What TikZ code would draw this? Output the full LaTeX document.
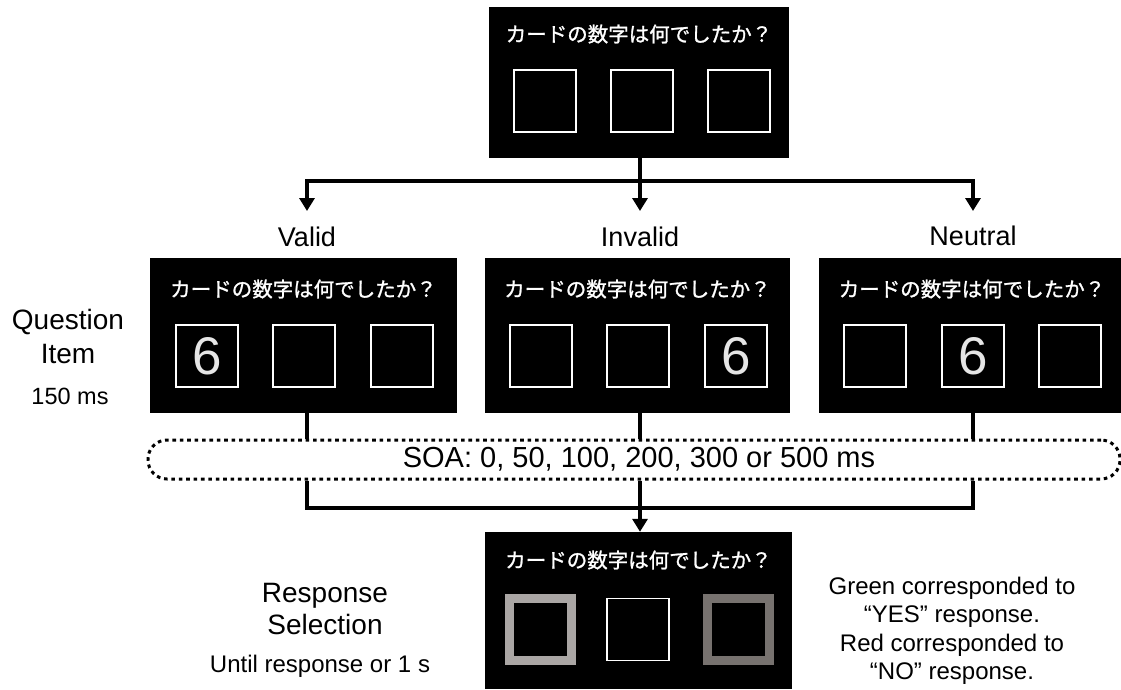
\documentclass[tikz,border=0pt]{standalone}
\usepackage{fontspec}
\setmainfont{Liberation Sans}
\newfontfamily\jpfont[FakeBold=1.2]{Noto Sans CJK JP}
\usetikzlibrary{arrows.meta}
\definecolor{digitgray}{HTML}{E6E6E6}
\definecolor{keylight}{HTML}{AAA6A4}
\definecolor{keydark}{HTML}{77726F}
\tikzset{
  screen/.style={fill=black, inner sep=0pt},
  prompt/.style={font=\jpfont\fontsize{20.5}{24}\selectfont, text=white, inner sep=0pt},
  cell/.style={draw=white, line width=1.4pt, fill=black, minimum size=62pt, inner sep=0pt,
               text=digitgray, font=\fontsize{53}{53}\selectfont},
  choice/.style={draw=#1, line width=9pt, fill=black, minimum size=62pt, inner sep=0pt},
  wire/.style={line width=3.2pt},
  flow/.style={wire, -{Triangle[width=15pt,length=13pt]}},
  heading/.style={font=\fontsize{27}{32}\selectfont, inner sep=0pt},
  sidelabel/.style={align=center, inner sep=0pt},
}
\begin{document}
\begin{tikzpicture}[x=1pt, y=-1pt]
\useasboundingbox (0,0) rectangle (1121,689);

% ---- top screen: question with three empty cards
\node[screen, minimum width=300pt, minimum height=151pt] (top) at (639,82.5) {};
\node[prompt] (tq) at (639,34) {カードの数字は何でしたか？};
\node[cell] (t1) at (545,101) {};
\node[cell] (t2) at (642,101) {};
\node[cell] (t3) at (739,101) {};

% ---- branch arrows
\coordinate (av) at (307,211);
\coordinate (ai) at (640,211);
\coordinate (an) at (973,211);
\coordinate (j) at (640,181);
\draw[flow] (top.south -| ai) -- (ai);
\draw[flow] (j) -| (av);
\draw[flow] (j) -| (an);

% ---- condition headings
\node[heading] (lv) at (307,237) {Valid};
\node[heading] (li) at (640,237) {Invalid};
\node[heading] (ln) at (973,236) {Neutral};

% ---- question item screens
\node[screen, minimum width=307pt, minimum height=155pt] (vbox) at (303.5,335.5) {};
\node[prompt] at (303.5,289) {カードの数字は何でしたか？};
\node[cell] (v1) at (207,356) {6};
\node[cell] (v2) at (304,356) {};
\node[cell] (v3) at (402,356) {};

\node[screen, minimum width=305pt, minimum height=155pt] (ibox) at (637.5,335.5) {};
\node[prompt] at (637.5,289) {カードの数字は何でしたか？};
\node[cell] (i1) at (541,356) {};
\node[cell] (i2) at (638,356) {};
\node[cell] (i3) at (736,356) {6};

\node[screen, minimum width=302pt, minimum height=155pt] (nbox) at (970,335.5) {};
\node[prompt] at (972,289) {カードの数字は何でしたか？};
\node[cell] (n1) at (875,356) {};
\node[cell] (n2) at (973,356) {6};
\node[cell] (n3) at (1070,356) {};

% ---- left labels for the question item
\node[sidelabel, font=\fontsize{28}{34}\selectfont] (qi) at (68,336) {Question\\Item};
\node[sidelabel, font=\fontsize{23.5}{28}\selectfont] (qt) at (70,396) {150 ms};

% ---- SOA interval
\node[draw, line width=3pt, dash pattern=on 3.6pt off 3.8pt, rounded corners=19pt,
      minimum width=972pt, minimum height=39pt, inner sep=0pt,
      font=\fontsize{29}{32}\selectfont] (soa) at (634,459.5) {\hspace{10pt}SOA: 0, 50, 100, 200, 300 or 500 ms};

% ---- connectors through the SOA interval
\coordinate (jb) at (640,508);
\draw[wire] (vbox.south -| av) -- (soa.north -| av);
\draw[wire] (ibox.south -| ai) -- (soa.north -| ai);
\draw[wire] (nbox.south -| an) -- (soa.north -| an);
\draw[wire] (soa.south -| av) |- (jb);
\draw[wire] (soa.south -| an) |- (jb);

% ---- response selection screen
\node[screen, minimum width=307pt, minimum height=157pt] (rbox) at (638.5,610.5) {};
\draw[flow] (soa.south -| ai) -- (rbox.north -| ai);
\node[prompt] at (638.5,560) {カードの数字は何でしたか？};
\node[choice=keylight] (r1) at (540.5,629) {};
\node[cell] (r2) at (638,629.5) {};
\node[choice=keydark] (r3) at (738,629.5) {};

% ---- labels for the response selection
\node[sidelabel, font=\fontsize{28}{32}\selectfont] (rs) at (325,609) {Response\\Selection};
\node[sidelabel, font=\fontsize{24}{28}\selectfont] (rt) at (320,666) {Until response or 1 s};
\node[sidelabel, font=\fontsize{24}{28.5}\selectfont] (key) at (952,631)
  {Green corresponded to\\“YES” response.\\Red corresponded to\\“NO” response.};
\end{tikzpicture}
\end{document}
